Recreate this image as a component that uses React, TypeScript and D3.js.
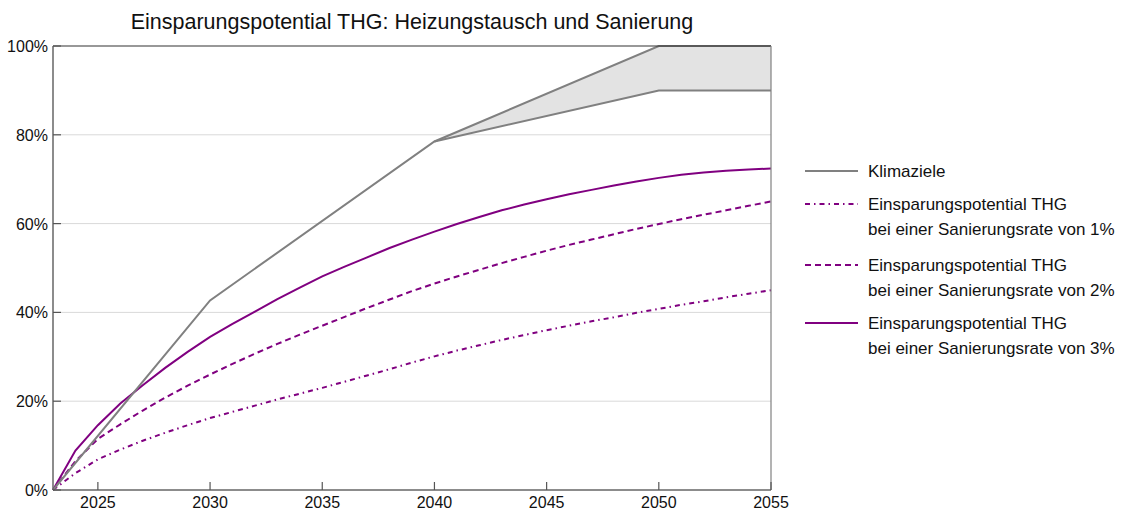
import React from "react";
import * as d3 from "d3";

const years: number[] = d3.range(2023, 2056);

const rate1: number[] = [0, 3.8, 6.9, 9.1, 11.1, 12.9, 14.6, 16.2, 17.6, 19.0, 20.4, 21.7, 23.0, 24.4, 25.8, 27.2, 28.7, 30.1, 31.4, 32.6, 33.8, 34.9, 36.0, 37.0, 38.0, 38.9, 39.9, 40.8, 41.7, 42.5, 43.4, 44.2, 45.0];
const rate2: number[] = [0, 6.5, 11.5, 14.8, 17.9, 20.8, 23.5, 26.0, 28.4, 30.7, 32.9, 35.0, 37.0, 39.0, 41.0, 42.9, 44.8, 46.5, 48.1, 49.6, 51.1, 52.5, 53.9, 55.2, 56.4, 57.6, 58.8, 59.9, 61.0, 62.0, 63.0, 64.0, 65.0];
const rate3: number[] = [0, 8.9, 14.6, 19.5, 23.6, 27.5, 31.1, 34.5, 37.4, 40.2, 43.0, 45.6, 48.1, 50.3, 52.4, 54.5, 56.4, 58.2, 59.9, 61.5, 63.0, 64.3, 65.5, 66.6, 67.6, 68.6, 69.5, 70.3, 71.0, 71.5, 71.9, 72.2, 72.4];

const klimaYears: number[] = [2023, 2030, 2040, 2050, 2055];
const klimaUpper: number[] = [0, 42.7, 78.5, 100, 100];
const klimaLower: number[] = [0, 42.7, 78.5, 90, 90];

const xTicks: number[] = [2025, 2030, 2035, 2040, 2045, 2050, 2055];
const yTicks: number[] = [0, 20, 40, 60, 80, 100];

const title = "Einsparungspotential THG: Heizungstausch und Sanierung";
const legendItems = [
  { lines: ["Klimaziele"], color: "#808080", dash: "" },
  { lines: ["Einsparungspotential THG", "bei einer Sanierungsrate von 1%"], color: "#800080", dash: "5,4,1.5,4" },
  { lines: ["Einsparungspotential THG", "bei einer Sanierungsrate von 2%"], color: "#800080", dash: "6,4" },
  { lines: ["Einsparungspotential THG", "bei einer Sanierungsrate von 3%"], color: "#800080", dash: "" },
];

const font = "'Liberation Sans', Arial, sans-serif";

export default function App() {
  const left = 53, right = 771, top = 46, bottom = 490;
  const x = d3.scaleLinear().domain([2023, 2055]).range([left, right]);
  const y = d3.scaleLinear().domain([0, 100]).range([bottom, top]);

  const line = d3
    .line<[number, number]>()
    .x((d) => x(d[0]))
    .y((d) => y(d[1]));

  const series = [
    { vals: rate1, dash: "5,4,1.5,4" },
    { vals: rate2, dash: "6,4" },
    { vals: rate3, dash: "" },
  ];

  const bandIdx = [2, 3, 4];
  const area = d3
    .area<number>()
    .x((i) => x(klimaYears[i]))
    .y0((i) => y(klimaLower[i]))
    .y1((i) => y(klimaUpper[i]));

  const upperPts = klimaYears.map((yr, i) => [yr, klimaUpper[i]] as [number, number]);
  const lowerPts = klimaYears.map((yr, i) => [yr, klimaLower[i]] as [number, number]).slice(2);

  const legendY = [171, 204, 265, 323];

  return (
    <svg
      width={1125}
      height={509}
      style={{ position: "absolute", left: 0, top: 0, background: "#fff" }}
      fontFamily={font}
    >
      <rect x={0} y={0} width={1125} height={509} fill="#fff" />
      <text x={(left + right) / 2} y={29} textAnchor="middle" fontSize={21.5} fill="#111">
        {title}
      </text>

      {yTicks
        .filter((t) => t > 0 && t < 100)
        .map((t) => (
          <line key={"g" + t} x1={left} x2={right} y1={y(t)} y2={y(t)} stroke="#d9d9d9" strokeWidth={1} />
        ))}

      <path d={area(bandIdx) || ""} fill="#e3e3e3" stroke="none" />

      {series.map((s, i) => (
        <path
          key={"s" + i}
          d={line(years.map((yr, j) => [yr, s.vals[j]] as [number, number])) || ""}
          fill="none"
          stroke="#800080"
          strokeWidth={2}
          strokeDasharray={s.dash}
        />
      ))}

      <path d={line(upperPts) || ""} fill="none" stroke="#808080" strokeWidth={2} />
      <path d={line(lowerPts) || ""} fill="none" stroke="#808080" strokeWidth={2} />

      {/* frame */}
      <line x1={left} x2={right} y1={top} y2={top} stroke="#333" strokeWidth={1.2} />
      <line x1={right} x2={right} y1={top} y2={bottom} stroke="#808080" strokeWidth={1.2} />
      <line x1={left} x2={left} y1={top} y2={bottom} stroke="#666" strokeWidth={1.5} />
      <line x1={left} x2={right} y1={bottom} y2={bottom} stroke="#666" strokeWidth={1.5} />

      {yTicks.map((t) => (
        <g key={"yt" + t}>
          <line x1={left} x2={left + 8} y1={y(t)} y2={y(t)} stroke="#555" strokeWidth={1.2} />
          <text x={left - 5} y={y(t) + 6} textAnchor="end" fontSize={16} fill="#111">
            {t + "%"}
          </text>
        </g>
      ))}

      {xTicks.map((t) => (
        <g key={"xt" + t}>
          <line x1={x(t)} x2={x(t)} y1={bottom} y2={bottom - 8} stroke="#555" strokeWidth={1.2} />
          <text x={x(t)} y={bottom + 18} textAnchor="middle" fontSize={16} fill="#111">
            {t}
          </text>
        </g>
      ))}

      {legendItems.map((it, i) => (
        <g key={"l" + i}>
          <line
            x1={805}
            x2={858}
            y1={legendY[i]}
            y2={legendY[i]}
            stroke={it.color}
            strokeWidth={2}
            strokeDasharray={it.dash}
          />
          {it.lines.map((ln, k) => (
            <text key={k} x={868} y={legendY[i] + 6 + k * 25} fontSize={17} fill="#111">
              {ln}
            </text>
          ))}
        </g>
      ))}
    </svg>
  );
}
